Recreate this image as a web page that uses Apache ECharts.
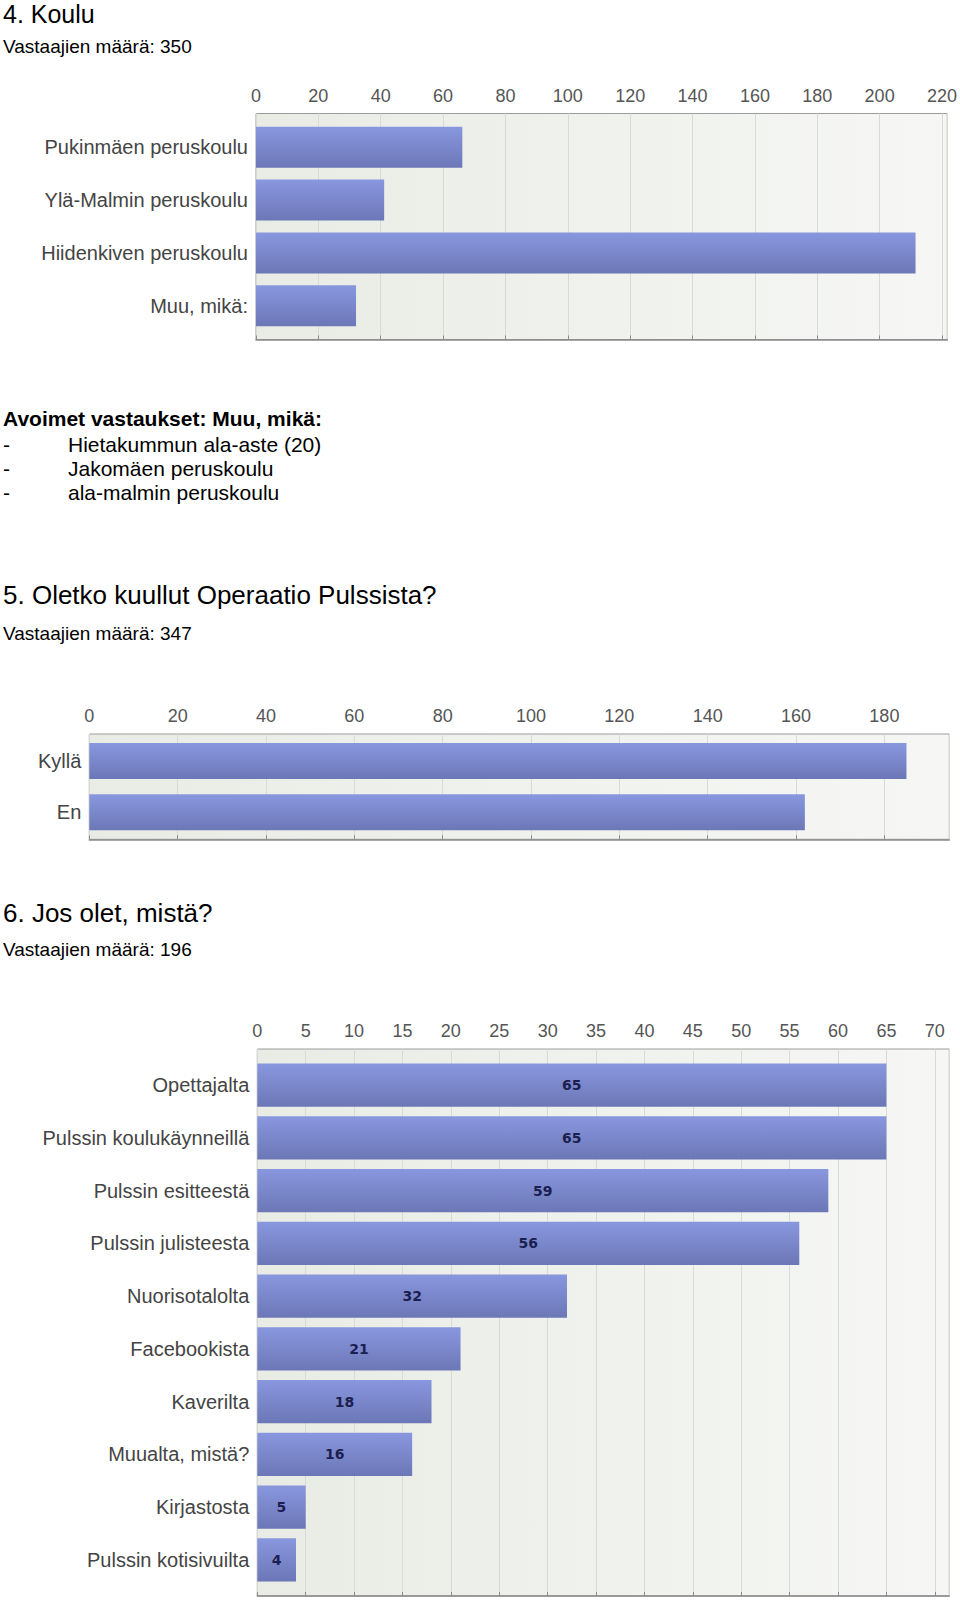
<!DOCTYPE html>
<html>
<head>
<meta charset="utf-8">
<script src="https://cdn.jsdelivr.net/npm/echarts/dist/echarts.min.js"></script>
<style>
  html, body { margin: 0; padding: 0; background: #ffffff; }
  #page { position: relative; width: 960px; height: 1601px; overflow: hidden; }
  #chart { position: absolute; left: 0; top: 0; width: 960px; height: 1601px; }
  .t { position: absolute; left: 3px; white-space: pre; font-family: "Liberation Sans", Arial, sans-serif; color: #000; line-height: 1; }
  .h { font-size: 26px; }
  .n { font-size: 19px; }
  .b { font-size: 21px; font-weight: bold; }
  .l { font-size: 21px; }
  .l span { position: absolute; left: 65px; }
</style>
</head>
<body>
<div id="page">
  <div id="chart"></div>
  <div class="t h" style="top:2px; font-size:25px;">4. Koulu</div>
  <div class="t n" style="top:37px;">Vastaajien määrä: 350</div>
  <div class="t b" style="top:408px;">Avoimet vastaukset: Muu, mikä:</div>
  <div class="t l" style="top:434px;">-<span>Hietakummun ala-aste (20)</span></div>
  <div class="t l" style="top:458px;">-<span>Jakomäen peruskoulu</span></div>
  <div class="t l" style="top:482px;">-<span>ala-malmin peruskoulu</span></div>
  <div class="t h" style="top:582px;">5. Oletko kuullut Operaatio Pulssista?</div>
  <div class="t n" style="top:624px;">Vastaajien määrä: 347</div>
  <div class="t h" style="top:900px;">6. Jos olet, mistä?</div>
  <div class="t n" style="top:940px;">Vastaajien määrä: 196</div>
</div>
<script>
// ---- Data ----
const kouluCategories = ["Pukinmäen peruskoulu", "Ylä-Malmin peruskoulu", "Hiidenkiven peruskoulu", "Muu, mikä:"];
const kouluValues = [66, 41, 211, 32];
const kouluAxisMax = 221.7;
const kouluTickStep = 20;

const pulssiCategories = ["Kyllä", "En"];
const pulssiValues = [185, 162];
const pulssiAxisMax = 194.7;
const pulssiTickStep = 20;

const mistaCategories = ["Opettajalta", "Pulssin koulukäynneillä", "Pulssin esitteestä", "Pulssin julisteesta",
  "Nuorisotalolta", "Facebookista", "Kaverilta", "Muualta, mistä?", "Kirjastosta", "Pulssin kotisivuilta"];
const mistaValues = [65, 65, 59, 56, 32, 21, 18, 16, 5, 4];
const mistaAxisMax = 71.5;
const mistaTickStep = 5;

// ---- Layout / style ----
const FONT = "Liberation Sans";
const charts = [
  { cats: kouluCategories, vals: kouluValues, max: kouluAxisMax, step: kouluTickStep,
    left: 256, top: 113.5, width: 693, height: 226, pad: 7.4, barWidth: 41, showValues: false },
  { cats: pulssiCategories, vals: pulssiValues, max: pulssiAxisMax, step: pulssiTickStep,
    left: 89.3, top: 734, width: 860, height: 105.3, pad: 1.3, barWidth: 36, showValues: false },
  { cats: mistaCategories, vals: mistaValues, max: mistaAxisMax, step: mistaTickStep,
    left: 257.3, top: 1049, width: 692, height: 547, pad: 9.8, barWidth: 43.3, showValues: true }
];

const grid = [], xAxis = [], yAxis = [], series = [];
charts.forEach((c, i) => {
  const outer = grid.length;
  grid.push({
    left: c.left, top: c.top, width: c.width, height: c.height, show: true,
    backgroundColor: new echarts.graphic.LinearGradient(0, 0, 1, 0, [
      { offset: 0, color: '#e9ece5' }, { offset: 1, color: '#f6f7f5' }
    ]),
    borderColor: '#9c9c9c', borderWidth: 1
  });
  xAxis.push({
    gridIndex: outer, type: 'value', position: 'top', min: 0, max: c.max, interval: c.step,
    axisLine: { show: true, lineStyle: { color: '#8a8a8a', width: 1.5 } },
    axisTick: { show: true, length: 4, lineStyle: { color: '#8a8a8a' } },
    axisLabel: { fontFamily: FONT, fontSize: 18, color: '#555', margin: 9, showMaxLabel: false },
    splitLine: { show: true, lineStyle: { color: '#d8dad5', width: 1 } }
  });
  yAxis.push({ gridIndex: outer, type: 'value', min: 0, max: 1, show: false });

  const inner = grid.length;
  grid.push({ left: c.left, top: c.top + c.pad, width: c.width, height: c.height - 2 * c.pad });
  xAxis.push({ gridIndex: inner, type: 'value', min: 0, max: c.max, show: false });
  yAxis.push({
    gridIndex: inner, type: 'category', data: c.cats, inverse: true,
    axisLine: { show: false }, axisTick: { show: false }, splitLine: { show: false },
    axisLabel: { fontFamily: FONT, fontSize: 20, color: '#444', margin: 8 }
  });
  series.push({
    type: 'bar', xAxisIndex: inner, yAxisIndex: inner, data: c.vals, barWidth: c.barWidth,
    itemStyle: {
      color: new echarts.graphic.LinearGradient(0, 0, 0, 1, [
        { offset: 0, color: '#8997df' }, { offset: 1, color: '#6b77b6' }
      ])
    },
    label: {
      show: c.showValues, position: 'inside', color: '#1b1f4f',
      fontFamily: 'DejaVu Sans', fontWeight: 'bold', fontSize: 14
    },
    silent: true, animation: false
  });
});

const chart = echarts.init(document.getElementById('chart'), null, { renderer: 'svg', width: 960, height: 1601 });
chart.setOption({ animation: false, grid, xAxis, yAxis, series });
</script>
</body>
</html>
